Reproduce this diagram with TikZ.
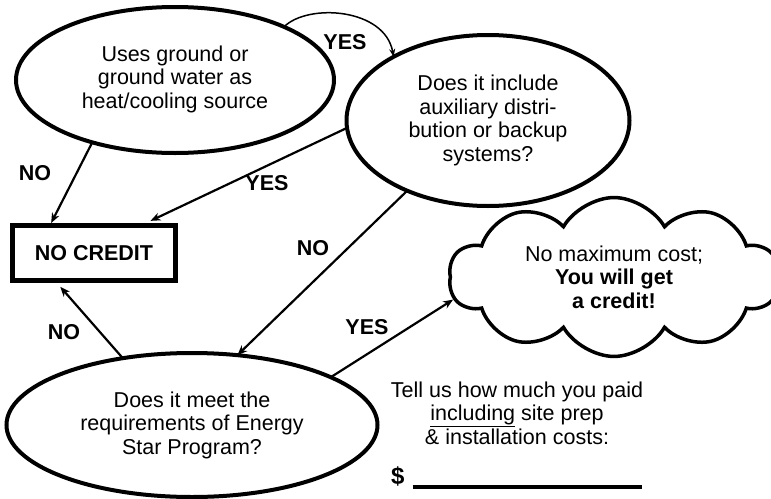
\documentclass[tikz,border=0pt]{standalone}
\usepackage{fontspec}
\setmainfont{Liberation Sans}
\usetikzlibrary{shapes.geometric,shapes.symbols,arrows.meta}
\tikzset{
  txt/.style={font=\fontsize{21.5}{23.5}\selectfont, align=center, inner sep=0pt},
  lbl/.style={font=\fontsize{21.5}{23.5}\selectfont\bfseries, inner sep=0pt},
  oval/.style={ellipse, draw, line width=4pt, inner sep=0pt, outer sep=0pt,
    font=\fontsize{21.5}{23.5}\selectfont, align=center},
  flow/.style={line width=2.2pt, -{Stealth[length=10pt,width=8pt]}},
  thinflow/.style={line width=1.5pt, -{Stealth[length=8pt,width=6pt]}}
}
\begin{document}
\begin{tikzpicture}[x=1pt,y=-1pt]
\useasboundingbox (0,0) rectangle (771,498);
\fill[white] (0,0) rectangle (771,498);

\node[oval, minimum width=318pt, minimum height=146pt] (e1) at (175,80)
  {\raisebox{4pt}{\begin{tabular}{@{}c@{}}Uses ground or\\ground water as\\heat/cooling source\end{tabular}}};
\node[oval, minimum width=283pt, minimum height=171pt] (e2) at (488,120.5)
  {Does it include\\auxiliary distri-\\bution or backup\\systems?};
\node[oval, minimum width=371pt, minimum height=144pt] (e3) at (192,425)
  {Does it meet the\\requirements of Energy\\Star Program?};
\node[draw, line width=5pt, minimum width=163pt, minimum height=55pt,
  font=\fontsize{21.5}{23.5}\selectfont\bfseries, inner sep=0pt] (box) at (94,253) {NO CREDIT};
\node[cloud, draw, line width=3.5pt, cloud puffs=10, cloud puff arc=120, aspect=2.1,
  minimum width=330pt, minimum height=158pt, inner sep=0pt,
  font=\fontsize{21.5}{23.5}\selectfont, align=center] (cl) at (614,277)
  {No maximum cost;\\\textbf{You will get}\\\textbf{a credit!}};

\node[txt] (tell) at (517,413)
  {Tell us how much you paid\\\underline{including} site prep\\\& installation costs:};
\node[lbl, anchor=base west, font=\fontsize{24}{26}\selectfont\bfseries] (pay) at (391,484)
  {\$\hspace{8pt}\rule[-4.5pt]{229pt}{3.5pt}};

% connectors
\draw[thinflow] (e1.26) .. controls (308,3) and (385,8) .. (e2.146);
\node[lbl] (lyes1) at (345,42) {YES};

\draw[flow] (e1.-143) -- (box.145);
\node[lbl] (lno1) at (35,173) {NO};

\draw[flow, shorten >=5pt] (e2.183) -- (box.30);
\node[lbl] (lyes2) at (267,183) {YES};

\draw[flow] (e2.221) -- (e3.57);
\node[lbl] (lno2) at (313,248) {NO};

\draw[flow, shorten >=5pt] (e3.136) -- (box.219);
\node[lbl] (lno3) at (64,332) {NO};

\draw[flow] (e3.19) -- (cl.188);
\node[lbl] (lyes3) at (367,327) {YES};
\end{tikzpicture}
\end{document}
